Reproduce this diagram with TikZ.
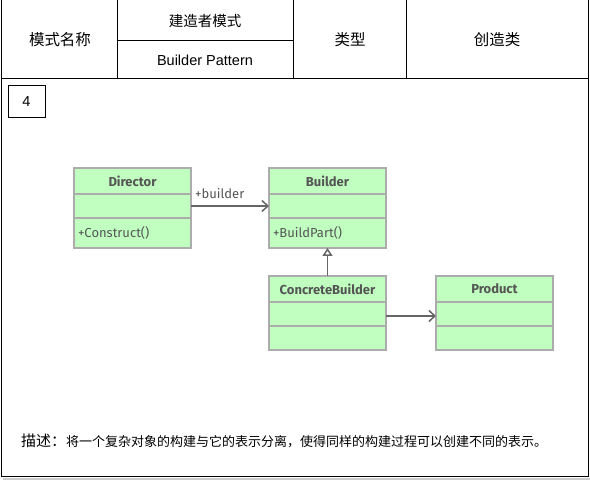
\documentclass[tikz,border=0pt]{standalone}
\usepackage{fontspec}
\setmainfont{Noto Sans CJK SC}
\newfontfamily\latinfont{Liberation Sans}
\newfontfamily\umlfont{Fira Sans}
\usetikzlibrary{arrows.meta,positioning}
\definecolor{umlGreen}{RGB}{192,255,192}
\definecolor{umlLine}{RGB}{172,172,172}
\definecolor{umlText}{RGB}{85,85,85}
\definecolor{umlArrow}{RGB}{102,102,102}

\begin{document}
\begin{tikzpicture}[x=1pt, y=-1pt,
  cls/.style={draw=umlLine, line width=1.2pt, fill=umlGreen, minimum width=117pt, inner sep=0pt, outer sep=0pt, text=umlText},
  clsname/.style={cls, minimum height=26pt, font=\umlfont\bfseries\fontsize{13}{15}\selectfont},
  clsbody/.style={cls, minimum height=#1, text width=109pt, inner xsep=4pt, align=left, font=\umlfont\fontsize{13}{15}\selectfont},
  assoc/.style={draw=umlArrow, line width=1.5pt, -{Straight Barb[length=6pt,width=11pt]}},
  inherit/.style={draw=umlArrow, line width=1.5pt, -{Triangle[open,length=8pt,width=10pt,fill=white]}}]
\useasboundingbox (0,0) rectangle (590,481);
% frame and header table
\fill[gray!40] (3,478) rectangle (590,480);
\draw[line width=1pt] (1,0) rectangle (588,477);
\draw[line width=1pt] (1,79) -- (588,79);
\foreach \x in {117,293,406} \draw[line width=1pt] (\x,0) -- (\x,79);
\draw[line width=1pt] (117,41) -- (293,41);
\node[font=\fontsize{15.5}{17}\selectfont] (hname) at (60,40) {模式名称};
\node[font=\fontsize{14.5}{16}\selectfont] (hcn) at (205,21) {建造者模式};
\node[font=\latinfont\fontsize{14.5}{16}\selectfont] (hen) at (205,60) {Builder Pattern};
\node[font=\fontsize{15.5}{17}\selectfont] (htype) at (350,40) {类型};
\node[font=\fontsize{15.5}{17}\selectfont] (hkind) at (497,40) {创造类};
\node[draw, line width=1pt, minimum width=37pt, minimum height=32pt, inner sep=0pt, font=\latinfont\fontsize{14.5}{16}\selectfont] (num) at (26.5,102) {4};
% classes
\node[clsname, anchor=north west] (dir) at (74,168) {Director};
\node[clsbody=24pt, below=0pt of dir] (dirA) {};
\node[clsbody=30pt, below=0pt of dirA] (dirO) {+Construct()};
\node[clsname, anchor=north west] (bld) at (269,168) {Builder};
\node[clsbody=24pt, below=0pt of bld] (bldA) {};
\node[clsbody=30pt, below=0pt of bldA] (bldO) {+BuildPart()};
\node[clsname, anchor=north west] (cb) at (269,276) {ConcreteBuilder};
\node[clsbody=24pt, below=0pt of cb] (cbA) {};
\node[clsbody=24pt, below=0pt of cbA] (cbO) {};
\node[clsname, anchor=north west] (prd) at (436,276) {Product};
\node[clsbody=24pt, below=0pt of prd] (prdA) {};
\node[clsbody=24pt, below=0pt of prdA] (prdO) {};
% relations
\draw[assoc] (dirA) -- (bldA);
\node[anchor=south west, inner sep=0pt, font=\umlfont\fontsize{13}{15}\selectfont, text=umlText] (lbl) at ([xshift=4pt,yshift=7pt]dirA.east) {+builder};
\draw[assoc] ([yshift=-2pt]cbA.east) -- ([yshift=-2pt]prdA.west);
\draw[inherit] (cb) -- (bldO);
% description
\node[anchor=west, inner sep=0pt] (desc) at (21,441) {{\fontsize{15}{17}\selectfont 描述：}\fontsize{13}{15}\selectfont 将一个复杂对象的构建与它的表示分离，使得同样的构建过程可以创建不同的表示。};
\end{tikzpicture}
\end{document}
